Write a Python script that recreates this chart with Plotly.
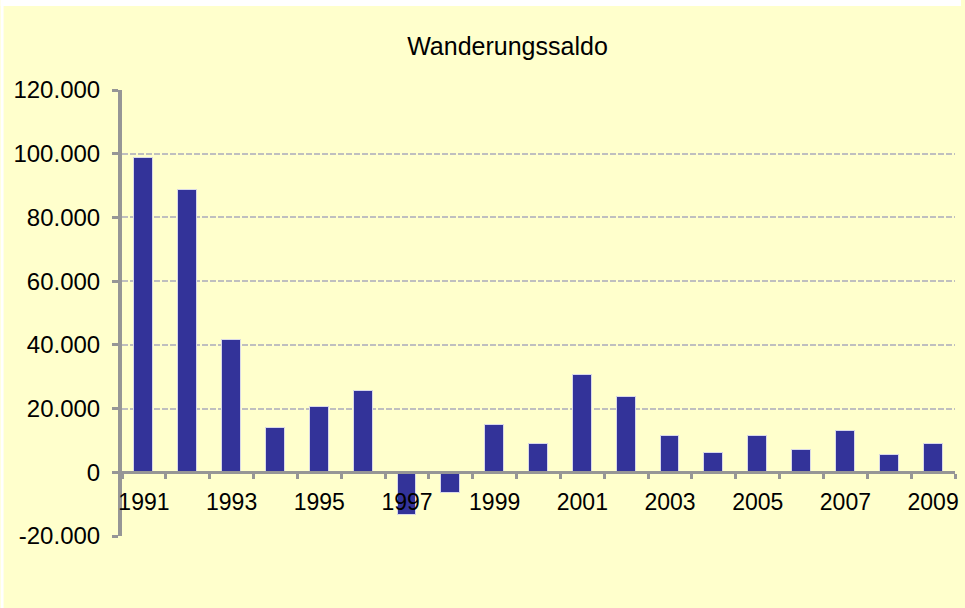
import plotly.graph_objects as go

years = list(range(1991, 2010))
saldo = [98800, 88700, 41600, 14000, 20400, 25400, -13300, -6600, 14700, 9000,
         30400, 23500, 11500, 6000, 11500, 7100, 12900, 5300, 9000]

x_tick_vals = [1991, 1993, 1995, 1997, 1999, 2001, 2003, 2005, 2007, 2009]
x_tick_text = [str(v) for v in x_tick_vals]
y_tick_vals = [-20000, 0, 20000, 40000, 60000, 80000, 100000, 120000]
y_tick_text = ["-20.000", "0", "20.000", "40.000", "60.000", "80.000", "100.000", "120.000"]

W, H = 965, 608
L, R, T, B = 122, 6, 90, 72
pw, ph = W - L - R, H - T - B

font_family = "Liberation Sans, Arial, sans-serif"
axis_col = "#969696"

fig = go.Figure()
fig.add_trace(go.Bar(
    x=years, y=saldo, width=0.43,
    marker=dict(color="#333399", line=dict(color="#D8D8E8", width=1)),
    showlegend=False,
))

fig.update_layout(
    width=W, height=H,
    margin=dict(l=L, r=R, t=T, b=B),
    paper_bgcolor="#FFFFCC",
    plot_bgcolor="#FFFFCC",
    font=dict(family=font_family, size=23, color="#000000"),
    title=dict(text="Wanderungssaldo", x=507.5 / W, xref="container", xanchor="center",
               y=1 - 46 / H, yref="container", yanchor="middle",
               font=dict(size=25, family=font_family)),
    xaxis=dict(
        range=[1990.5, 2009.5],
        tickvals=x_tick_vals, ticktext=x_tick_text,
        ticks="", showgrid=False, zeroline=False,
        showline=True, linecolor=axis_col, linewidth=3,
        anchor="free", position=(0 - (-20000)) / 140000,
        minor=dict(ticks="outside", tick0=1990.5, dtick=1, ticklen=5,
                   tickwidth=3, tickcolor=axis_col, showgrid=False),
        ticklabelstandoff=8,
        tickfont=dict(size=23),
    ),
    yaxis=dict(
        range=[-20000, 120000],
        tickvals=y_tick_vals, ticktext=y_tick_text,
        ticks="outside", ticklen=6, tickwidth=3, tickcolor=axis_col,
        showline=True, linecolor=axis_col, linewidth=4,
        showgrid=True, gridcolor="#BFBFBF", gridwidth=2, griddash="6px,2px",
        zeroline=False,
        ticklabelstandoff=7,
        tickfont=dict(size=24),
    ),
    bargap=0,
    shapes=[
        dict(type="rect", xref="paper", yref="paper",
             x0=-L / pw, x1=1 + R / pw, y0=1 + (T - 6) / ph, y1=1 + T / ph,
             fillcolor="white", line=dict(width=0), layer="above"),
        dict(type="rect", xref="paper", yref="paper",
             x0=-L / pw, x1=-(L - 3) / pw, y0=-B / ph, y1=1 + T / ph,
             fillcolor="white", line=dict(width=0), layer="above"),
    ],
)

fig.write_html("out.html", config={"displayModeBar": False},
               post_script="document.body.style.margin='0px';")
